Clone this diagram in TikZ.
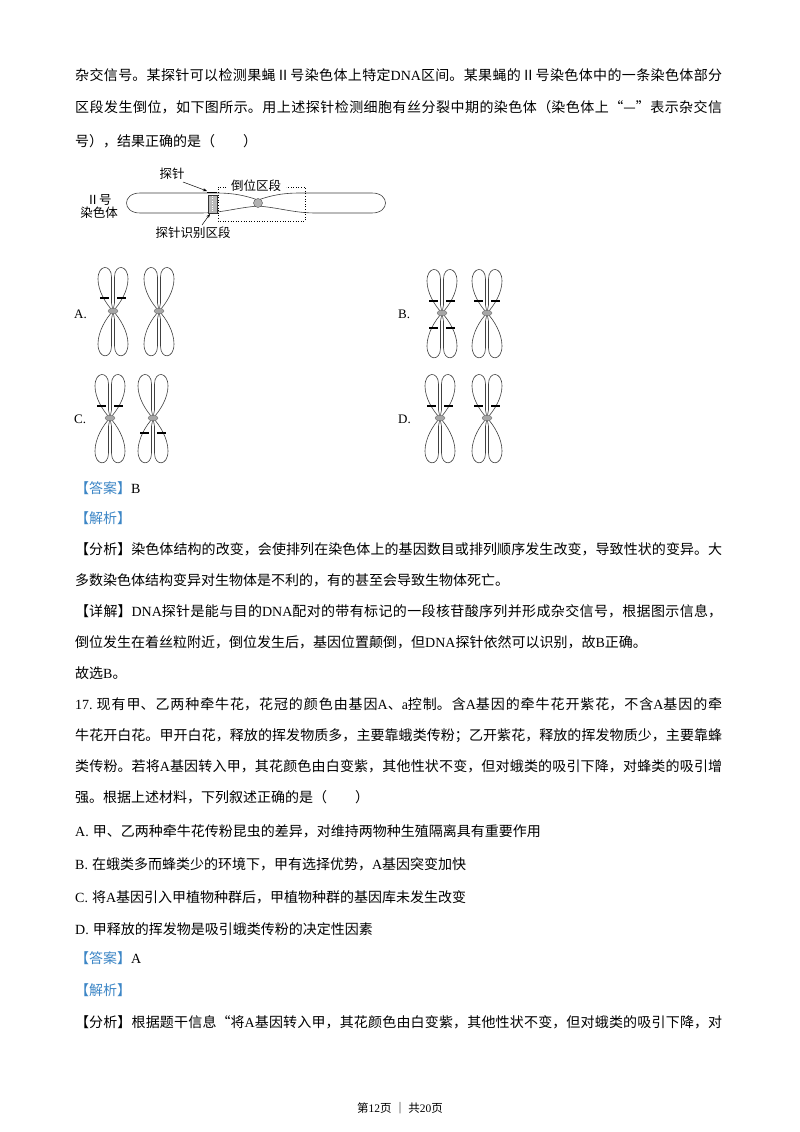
\documentclass[tikz,border=0pt]{standalone}
\usepackage{fontspec}
\usetikzlibrary{arrows.meta}
\setmainfont{Noto Sans CJK SC}
\newfontfamily\lat{Liberation Serif}
\XeTeXlinebreaklocale "zh"
\XeTeXlinebreakskip=0pt plus 3pt
\definecolor{ansblue}{HTML}{3C86C6}
\newcommand{\FL}[1]{\parbox[b]{647pt}{\parfillskip=0pt\parindent=0pt\relax #1}}
\tikzset{
 tx/.style={anchor=base west,inner sep=0,font=\fontsize{14}{16}\selectfont},
 sm/.style={inner sep=0,font=\fontsize{12.5}{14}\selectfont},
 ln/.style={line width=0.6pt,draw=black!75},
 sig/.style={line width=1.2pt},
 pics/arm/.style={code={\draw[ln] (0,0) .. controls (-7,-7) and (-15,-20) .. (-15,-32) .. controls (-15,-47) and (-1.5,-47) .. (-1.5,-34) -- (-1.5,-8) .. controls (-1.5,-4) .. (0,0);}},
 pics/chrom/.style={code={
   \pic {arm}; \pic[xscale=-1] {arm}; \pic[yscale=-1.03] {arm}; \pic[xscale=-1,yscale=-1.03] {arm};
   \fill[gray!70,draw=black!60,line width=0.3pt] (0,0) ellipse (5 and 2.8);}}
}
\begin{document}
\begin{tikzpicture}[x=1pt,y=-1pt]
\useasboundingbox (0,0) rectangle (800,1132);
\fill[white] (0,0) rectangle (800,1132);
% paragraph 1
\node[tx] (l1) at (75,81) {\FL{杂交信号。某探针可以检测果蝇Ⅱ号染色体上特定{\lat DNA}区间。某果蝇的Ⅱ号染色体中的一条染色体部分}};
\node[tx] (l2) at (75,112) {\FL{区段发生倒位，如下图所示。用上述探针检测细胞有丝分裂中期的染色体（染色体上“—”表示杂交信}};
\node[tx] (l3) at (75,146) {号），结果正确的是（　　）};
% top diagram
\draw[ln] (258,200) .. controls (235,192) and (222,193) .. (200,193) -- (140,193) .. controls (122,193) and (122,213) .. (140,213) -- (200,213) .. controls (222,213) and (235,208) .. (258,206);
\draw[ln] (258,200) .. controls (281,192) and (294,193) .. (316,193) -- (372,193) .. controls (390,193) and (390,213) .. (372,213) -- (316,213) .. controls (294,213) and (281,208) .. (258,206);
\fill[gray!60,draw=black!70,line width=0.4pt] (258,203) circle (4.5);
\fill[gray!55,draw=black!80,line width=0.5pt] (208,195) rectangle (217,213);
\draw[white,dotted] (212.5,196) -- (212.5,212);
\draw[line width=1pt] (207,192) -- (217,192);
\draw[dotted,line width=0.6pt] (226,187) -- (218,187) -- (218,221) -- (305,221) -- (305,187) -- (286,187);
\node[sm] (dw) at (256,186) {倒位区段};
\node[sm] (tz) at (172,174) {探针};
\coordinate (tzp) at (207,191);
\draw[-{Stealth[length=4pt]},line width=0.5pt] (183,182) -- (tzp);
\node[sm,align=center] (ch) at (99,206) {Ⅱ号\\[-1pt]染色体};
\node[sm] (sb) at (193,233) {探针识别区段};
\coordinate (sbp) at (210,214);
\draw[-{Stealth[length=4pt]},line width=0.5pt] (202,225) -- (sbp);
% options
\node[tx,font=\lat\fontsize{13}{15}\selectfont] (oA) at (74,318) {A.};
\node[tx,font=\lat\fontsize{13}{15}\selectfont] (oB) at (398,318) {B.};
\node[tx,font=\lat\fontsize{13}{15}\selectfont] (oC) at (74,423) {C.};
\node[tx,font=\lat\fontsize{13}{15}\selectfont] (oD) at (398,423) {D.};
\pic at (113,311) {chrom}; \pic at (159,311) {chrom};
\pic at (442,313) {chrom}; \pic at (487,313) {chrom};
\pic at (110,418) {chrom}; \pic at (153,418) {chrom};
\pic at (440,418) {chrom}; \pic at (487,418) {chrom};
\foreach \x/\y in {113/298, 442/301, 442/328, 487/301, 110/406, 153/433, 440/406, 487/406}
  {\draw[sig] (\x-13,\y) -- (\x-4,\y); \draw[sig] (\x+4,\y) -- (\x+13,\y);}
% answer
\node[tx] (a1) at (75,493) {{\color{ansblue}【答案】}{\lat B}};
\node[tx] (a2) at (75,523) {{\color{ansblue}【解析】}};
\node[tx] (a3) at (75,554) {\FL{【分析】染色体结构的改变，会使排列在染色体上的基因数目或排列顺序发生改变，导致性状的变异。大}};
\node[tx] (a4) at (75,585) {多数染色体结构变异对生物体是不利的，有的甚至会导致生物体死亡。};
\node[tx] (a5) at (75,616) {\FL{【详解】{\lat DNA}探针是能与目的{\lat DNA}配对的带有标记的一段核苷酸序列并形成杂交信号，根据图示信息，}};
\node[tx] (a6) at (75,647) {倒位发生在着丝粒附近，倒位发生后，基因位置颠倒，但{\lat DNA}探针依然可以识别，故{\lat B}正确。};
\node[tx] (a7) at (75,678) {故选{\lat B}。};
% question 17
\node[tx] (q1) at (75,709) {\FL{{\lat 17.}\kern4pt 现有甲、乙两种牵牛花，花冠的颜色由基因{\lat A}、{\lat a}控制。含{\lat A}基因的牵牛花开紫花，不含{\lat A}基因的牵}};
\node[tx] (q2) at (75,740) {\FL{牛花开白花。甲开白花，释放的挥发物质多，主要靠蛾类传粉；乙开紫花，释放的挥发物质少，主要靠蜂}};
\node[tx] (q3) at (75,771) {\FL{类传粉。若将{\lat A}基因转入甲，其花颜色由白变紫，其他性状不变，但对蛾类的吸引下降，对蜂类的吸引增}};
\node[tx] (q4) at (75,802) {强。根据上述材料，下列叙述正确的是（　　）};
\node[tx] (qa) at (75,836) {{\lat A.}\kern4pt 甲、乙两种牵牛花传粉昆虫的差异，对维持两物种生殖隔离具有重要作用};
\node[tx] (qb) at (75,869) {{\lat B.}\kern4pt 在蛾类多而蜂类少的环境下，甲有选择优势，{\lat A}基因突变加快};
\node[tx] (qc) at (75,902) {{\lat C.}\kern4pt 将{\lat A}基因引入甲植物种群后，甲植物种群的基因库未发生改变};
\node[tx] (qd) at (75,934) {{\lat D.}\kern4pt 甲释放的挥发物是吸引蛾类传粉的决定性因素};
\node[tx] (b1) at (75,963) {{\color{ansblue}【答案】}{\lat A}};
\node[tx] (b2) at (75,995) {{\color{ansblue}【解析】}};
\node[tx] (b3) at (75,1027) {\FL{【分析】根据题干信息“将{\lat A}基因转入甲，其花颜色由白变紫，其他性状不变，但对蛾类的吸引下降，对}};
\node[inner sep=0,font=\fontsize{11.5}{13}\selectfont] (ft) at (400,1108) {第{\lat 12}页 ｜ 共{\lat 20}页};
\end{tikzpicture}
\end{document}
